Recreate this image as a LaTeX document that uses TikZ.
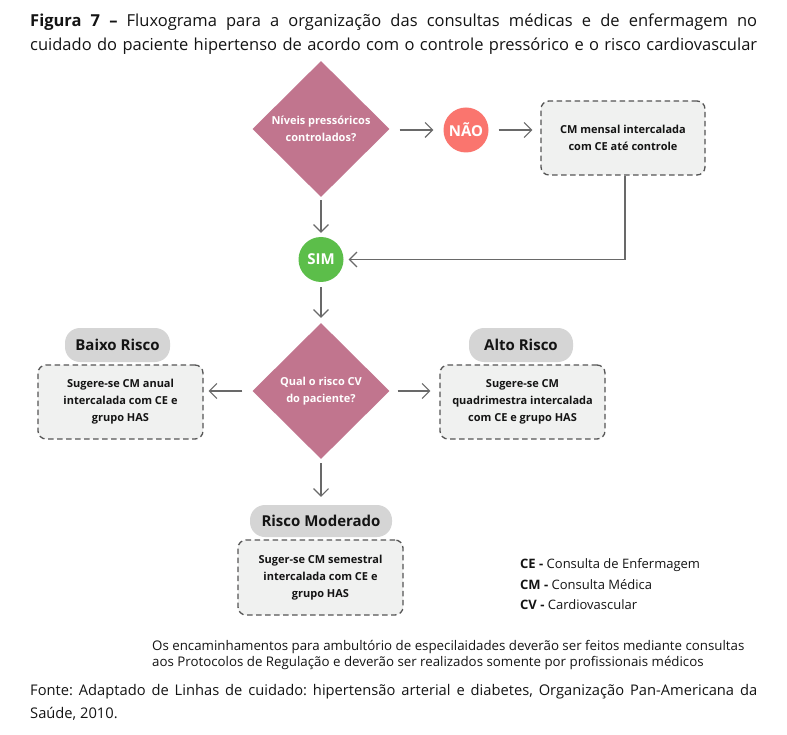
\documentclass[tikz,border=0pt]{standalone}
\usepackage{fontspec}
\setmainfont{Open Sans}
\frenchspacing
\usetikzlibrary{arrows.meta,shapes.geometric}
\definecolor{diacol}{RGB}{193,117,142}
\definecolor{naocol}{RGB}{250,117,110}
\definecolor{simcol}{RGB}{92,190,74}
\definecolor{pillcol}{RGB}{213,213,213}
\definecolor{boxfill}{RGB}{240,241,240}
\definecolor{dashcol}{RGB}{85,85,85}
\definecolor{arrgray}{RGB}{105,105,105}
\definecolor{txt}{RGB}{20,20,20}
\begin{document}
\begin{tikzpicture}[x=1pt,y=-1pt,
  arr/.style={draw=arrgray, line width=1.1pt, -{Straight Barb[length=7.5pt,width=15pt,line width=1.1pt]}},
  dia/.style={diamond, fill=diacol, minimum width=137pt, minimum height=136pt, inner sep=0pt, text=white, font=\bfseries\fontsize{11}{17}\selectfont, align=center},
  circ/.style={circle, minimum size=45pt, inner sep=0pt, text=white, font=\bfseries\fontsize{15}{18}\selectfont},
  dbox/.style={draw=dashcol, line width=1.3pt, dash pattern=on 5.5pt off 3.5pt, fill=boxfill, rounded corners=8pt, inner sep=0pt, align=center, text=txt, font=\bfseries\fontsize{11}{17}\selectfont},
  pill/.style={fill=pillcol, rounded corners=15pt, inner sep=0pt, text=txt, font=\bfseries\fontsize{15}{18}\selectfont},
  legend/.style={anchor=west, inner sep=0pt, text=txt, font=\fontsize{13}{16}\selectfont},
  note/.style={anchor=west, inner sep=0pt, text=txt, font=\fontsize{13.3}{16}\selectfont},
  foot/.style={anchor=west, inner sep=0pt, text=txt, font=\fontsize{14.7}{20}\selectfont},
  ttl/.style={anchor=west, inner sep=0pt, text=txt, font=\fontsize{16.5}{22}\selectfont}
]
\useasboundingbox[fill=white] (0,0) rectangle (787,735);

% title
\node[ttl] (t1) at (30,22) {\makebox[727pt][s]{\textbf{Figura 7 –} Fluxograma para a organização das consultas médicas e de enfermagem no}};
\node[ttl] (t2) at (30,46) {\spaceskip=0.08em plus 1em\makebox[727pt][s]{cuidado do paciente hipertenso de acordo com o controle pressórico e o risco cardiovascular}};

% top part
\node[dia] (d1) at (321,129) {Níveis pressóricos\\controlados?};
\node[circ, fill=naocol] (nao) at (466,130) {NÃO};
\node[dbox, minimum width=164pt, minimum height=74pt] (b1) at (623,138) {CM mensal intercalada\\com CE até controle};
\node[circ, fill=simcol] (sim) at (321,259.5) {SIM};
\coordinate (a1s) at ([xshift=10pt]d1.east |- nao.west);
\coordinate (b1in) at ([xshift=-8pt]b1.west |- nao.east);

\draw[arr] (a1s) -- ([xshift=-10pt]nao.west);
\draw[arr] ([xshift=10pt]nao.east) -- (b1in);
\draw[arr] ([xshift=2pt]b1.south) |- ([xshift=5pt]sim.east);
\draw[arr] ([yshift=-3pt]d1.south) -- ([yshift=4pt]sim.north);

% second decision
\node[dia] (d2) at (321,391) {Qual o risco CV\\do paciente?};
\draw[arr] ([yshift=-5pt]sim.south) -- ([yshift=5pt]d2.north);

\node[pill, minimum width=105pt, minimum height=34pt] (pb) at (117.5,345) {Baixo Risco};
\node[dbox, minimum width=165pt, minimum height=74pt] (bb) at (120.5,402) {Sugere-se CM anual\\intercalada com CE e\\grupo HAS};

\node[pill, minimum width=104pt, minimum height=34pt] (pa) at (521,345) {Alto Risco};
\node[dbox, minimum width=165pt, minimum height=74pt] (ba) at (522.5,402) {Sugere-se CM\\quadrimestra intercalada\\com CE e grupo HAS};

\node[pill, minimum width=142pt, minimum height=32pt] (pm) at (321,521) {Risco Moderado};
\node[dbox, minimum width=165pt, minimum height=75pt] (bm) at (320.5,577.5) {Suger-se CM semestral\\intercalada com CE e\\grupo HAS};

\draw[arr] ([xshift=-10pt]d2.west) -- ([xshift=5pt]bb.east |- d2.west);
\draw[arr] ([xshift=8pt]d2.east) -- ([xshift=-9pt]ba.west |- d2.east);
\draw[arr] ([yshift=-4pt]d2.south) -- ([yshift=8pt]pm.north);

% legend
\node[legend] (l1) at (520,565) {\textbf{CE -} Consulta de Enfermagem};
\node[legend] (l2) at (520,585) {\textbf{CM -} Consulta Médica};
\node[legend] (l3) at (520,605) {\textbf{CV -} Cardiovascular};

% note
\node[note] (n1) at (152,647) {Os encaminhamentos para ambultório de especilaidades deverão ser feitos mediante consultas};
\node[note] (n2) at (152,663) {aos Protocolos de Regulação e deverão ser realizados somente por profissionais médicos};

% source
\node[foot] (f1) at (30,692) {\makebox[727pt][s]{Fonte: Adaptado de Linhas de cuidado: hipertensão arterial e diabetes, Organização Pan-Americana da}};
\node[foot] (f2) at (30,714) {Saúde, 2010.};
\end{tikzpicture}
\end{document}
